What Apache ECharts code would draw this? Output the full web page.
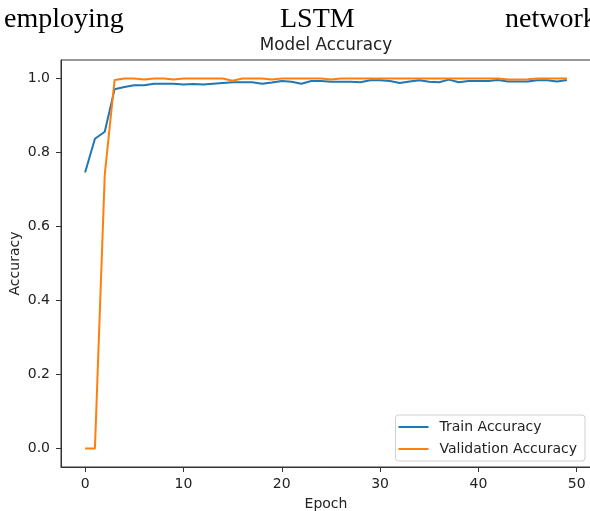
<!DOCTYPE html>
<html>
<head>
<meta charset="utf-8">
<script src="https://cdn.jsdelivr.net/npm/echarts@6/dist/echarts.min.js"></script>
<style>
html,body{margin:0;padding:0;background:#fff;}
#c{width:590px;height:511px;}
</style>
</head>
<body>
<div id="c"></div>
<script>
var epochs = [];
for (var i = 0; i < 50; i++) epochs.push(i);

var trainAcc = [0.746,0.837,0.856,0.971,0.977,0.982,0.982,0.986,0.986,0.986,
                0.984,0.985,0.984,0.986,0.988,0.990,0.990,0.990,0.986,0.989,
                0.993,0.991,0.986,0.993,0.993,0.991,0.991,0.991,0.990,0.995,
                0.995,0.993,0.988,0.992,0.995,0.991,0.990,0.997,0.990,0.993,
                0.993,0.993,0.996,0.992,0.992,0.992,0.995,0.995,0.992,0.996];

var valAcc = [0.000,0.000,0.740,0.996,1.000,1.000,0.997,1.000,1.000,0.997,
              1.000,1.000,1.000,1.000,1.000,0.994,1.000,1.000,1.000,0.997,
              1.000,1.000,1.000,1.000,1.000,0.997,1.000,1.000,1.000,1.000,
              1.000,1.000,1.000,1.000,1.000,1.000,1.000,1.000,1.000,1.000,
              1.000,1.000,1.000,0.997,0.997,0.998,1.000,1.000,1.000,1.000];

var xTicks = [0,10,20,30,40,50];
var yTicks = [0,0.2,0.4,0.6,0.8,1.0];

var FONT = 'DejaVu Sans';
var chart = echarts.init(document.getElementById('c'));
var trainData = epochs.map(function(e,i){return [e, trainAcc[i]];});
var valData = epochs.map(function(e,i){return [e, valAcc[i]];});

chart.setOption({
  animation: false,
  backgroundColor: '#fff',
  graphic: [
    {type:'text', left:4, top:6, style:{text:'employing', font:'28px "Liberation Serif"', fill:'#000'}},
    {type:'text', left:280, top:6, style:{text:'LSTM', font:'28px "Liberation Serif"', fill:'#000'}},
    {type:'text', left:505, top:6, style:{text:'network', font:'28px "Liberation Serif"', fill:'#000'}},
    {type:'text', x:326, y:46, style:{text:'Model Accuracy', font:'16.8px "DejaVu Sans"', fill:'#222', align:'center', verticalAlign:'middle'}}
  ],
  grid: {left:61, top:60, width:530, height:407, containLabel:false, outerBoundsMode:'none',
         show:true, borderColor:'#333', borderWidth:1, backgroundColor:'transparent'},
  legend: {
    orient:'vertical', right:5, top:415,
    backgroundColor:'#fff', borderColor:'#d0d0d0', borderWidth:1, borderRadius:3,
    padding:[5,8,5,3], itemGap:8, itemWidth:30, itemHeight:2, icon:'rect',
    textStyle:{fontFamily:FONT, fontSize:14, color:'#222', padding:[0,0,0,6]},
    data:['Train Accuracy','Validation Accuracy']
  },
  xAxis: {
    type:'value', min:-2.45, max:51.45,
    name:'Epoch', nameLocation:'middle', nameGap:30, nameMoveOverlap:false,
    nameTextStyle:{fontFamily:FONT, fontSize:14, color:'#222'},
    axisLine:{show:true, onZero:false, lineStyle:{color:'#333', width:1}},
    axisTick:{show:true, length:5, lineStyle:{color:'#333'}, customValues:xTicks},
    axisLabel:{fontFamily:FONT, fontSize:14, color:'#222', margin:10, customValues:xTicks},
    splitLine:{show:false}
  },
  yAxis: {
    type:'value', min:-0.05, max:1.05,
    name:'Accuracy', nameLocation:'middle', nameGap:39, nameMoveOverlap:false,
    nameTextStyle:{fontFamily:FONT, fontSize:14, color:'#222'},
    axisLine:{show:true, onZero:false, lineStyle:{color:'#333', width:1}},
    axisTick:{show:true, length:5, lineStyle:{color:'#333'}, customValues:yTicks},
    axisLabel:{fontFamily:FONT, fontSize:14, color:'#222', margin:11, customValues:yTicks,
      formatter:function(v){return v.toFixed(1);}},
    splitLine:{show:false}
  },
  series: [
    {name:'Train Accuracy', type:'line', data:trainData, showSymbol:false, symbol:'none',
     lineStyle:{color:'#1f77b4', width:2}, itemStyle:{color:'#1f77b4'}},
    {name:'Validation Accuracy', type:'line', data:valData, showSymbol:false, symbol:'none',
     lineStyle:{color:'#ff7f0e', width:2}, itemStyle:{color:'#ff7f0e'}}
  ]
});
</script>
</body>
</html>
